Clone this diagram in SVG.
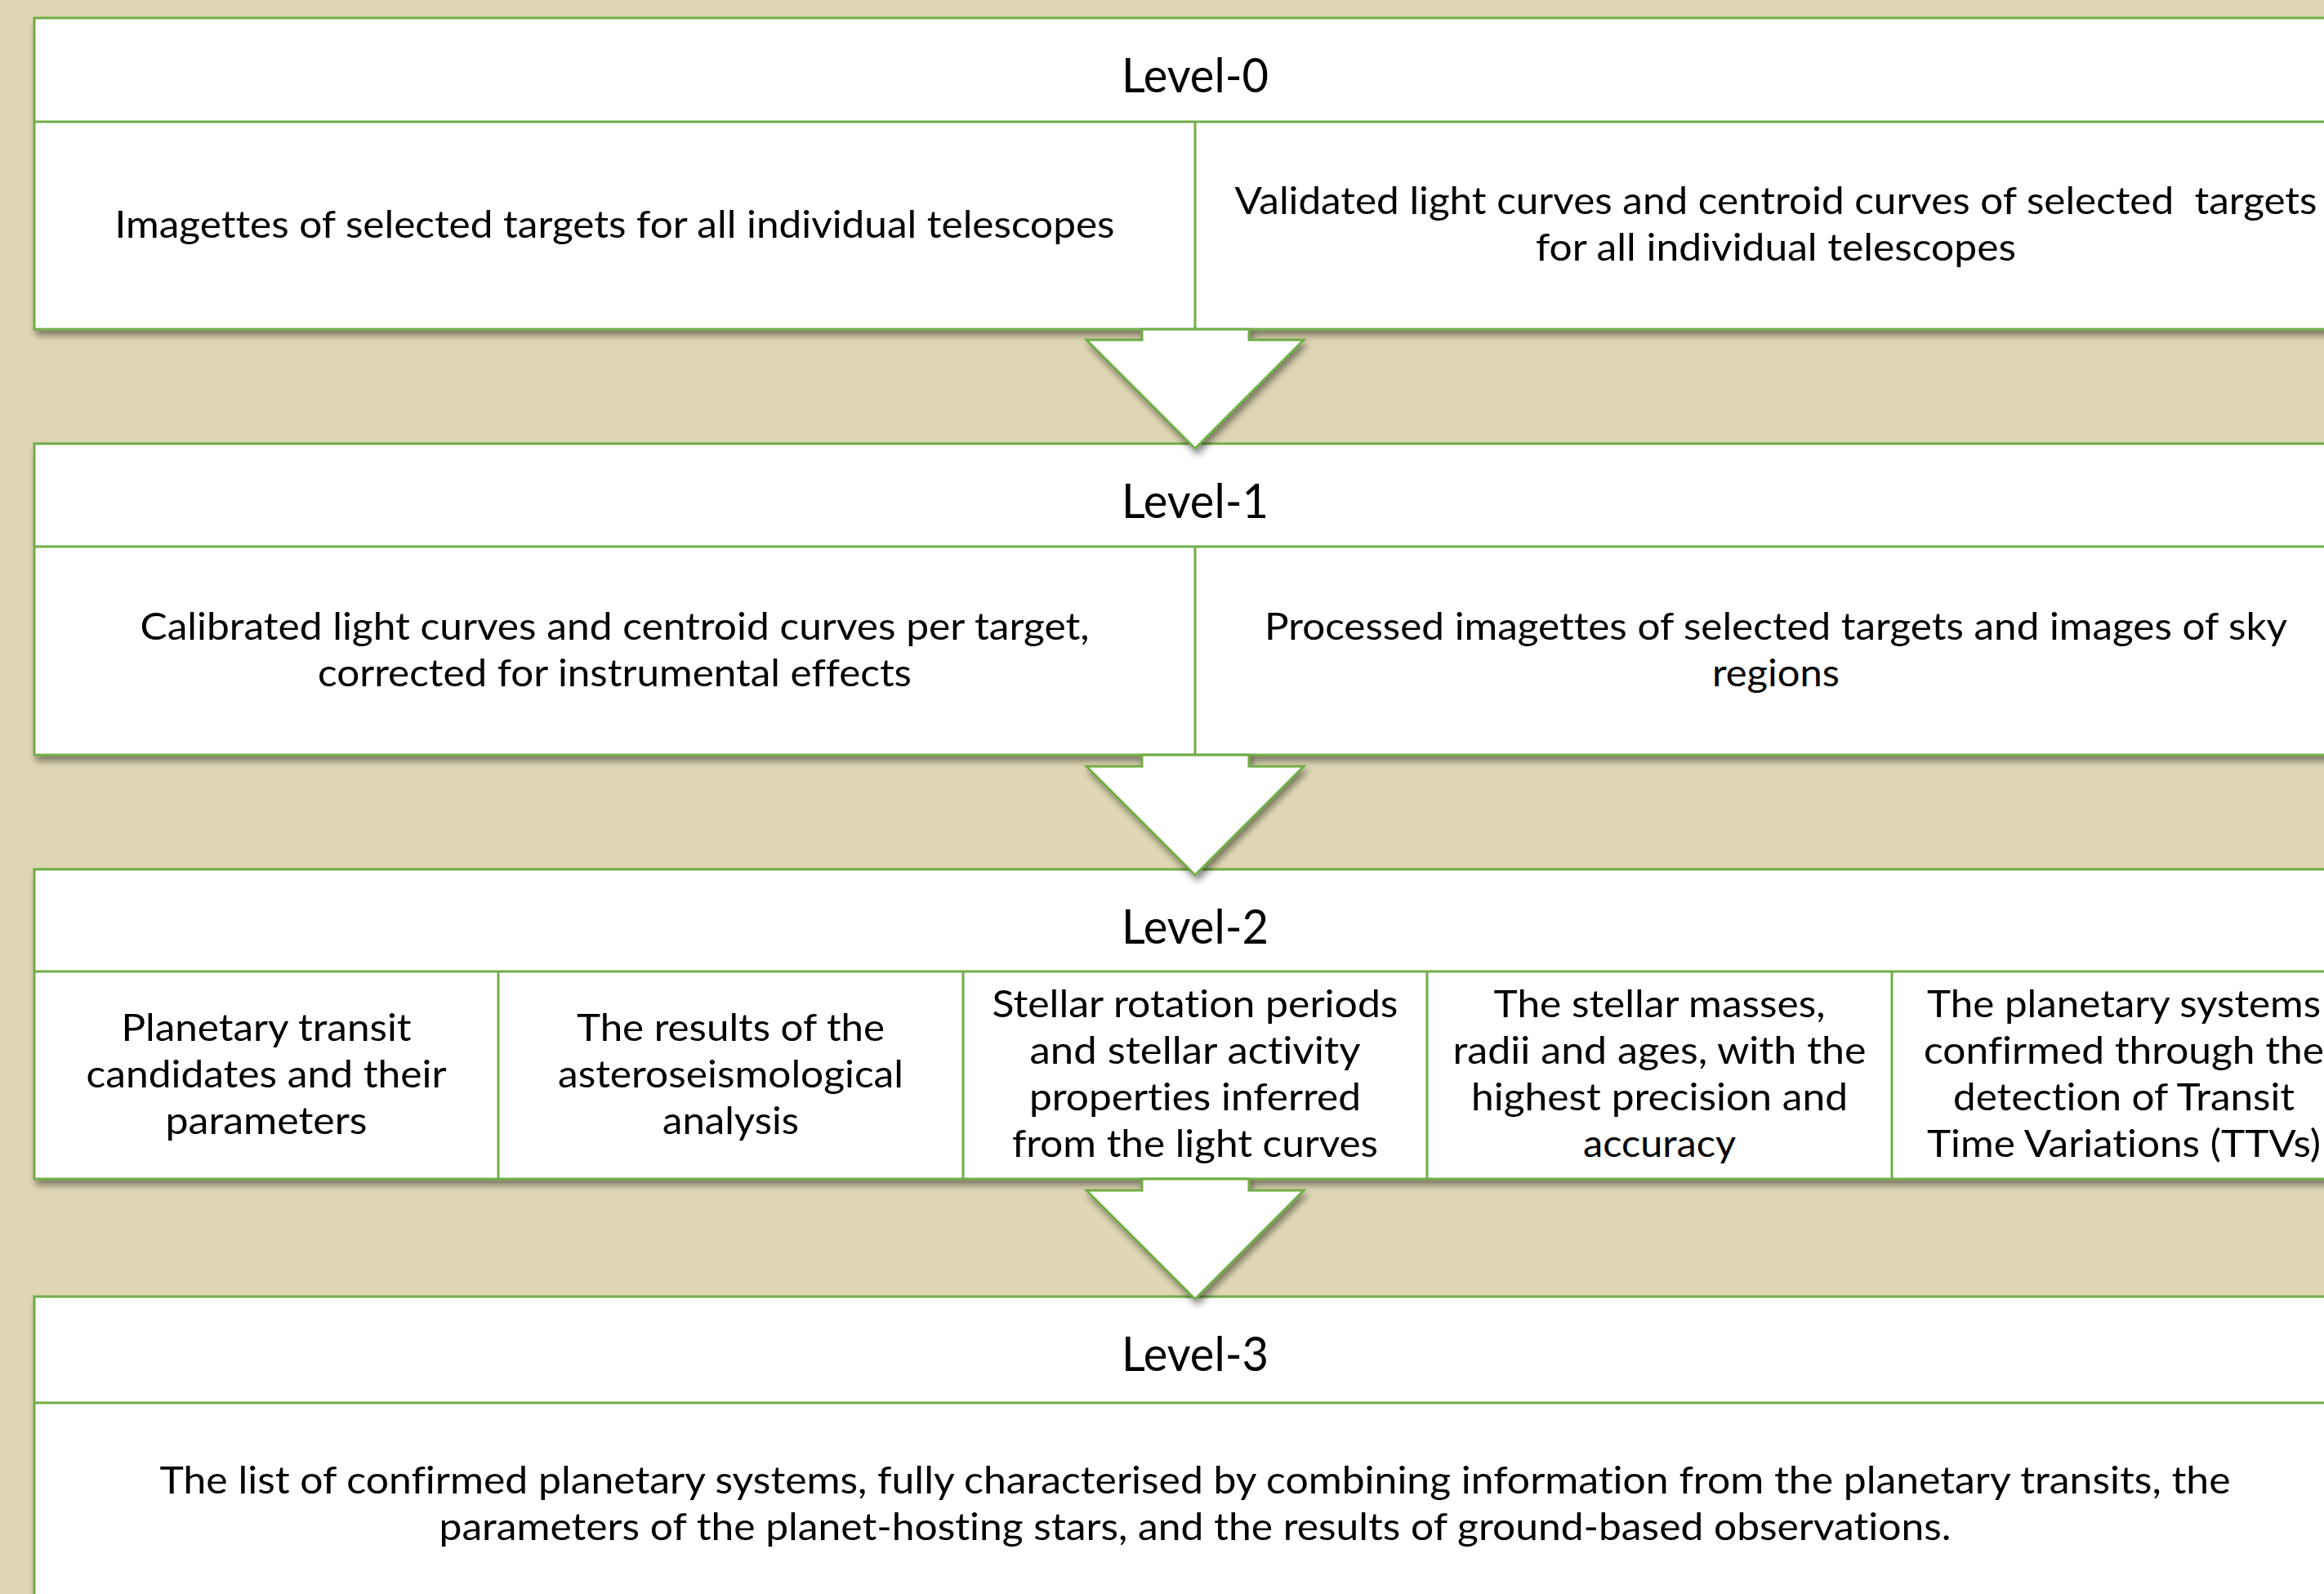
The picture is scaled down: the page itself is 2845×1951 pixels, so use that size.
<svg xmlns="http://www.w3.org/2000/svg" width="2845" height="1951" viewBox="0 0 2845 1951">
<style>
.bg{fill:#E0D8B4}
.box{fill:#FFFFFF;stroke:#70AD47;stroke-width:3}
.ln{stroke:#70AD47;stroke-width:3;fill:none}
.arrow{fill:#FFFFFF;stroke:#70AD47;stroke-width:3;stroke-linejoin:miter}
.h{font-family:Lato,"Liberation Sans",sans-serif;font-size:59px;fill:#000;text-anchor:middle;font-variant-ligatures:none}
.t{font-family:Lato,"Liberation Sans",sans-serif;font-size:47px;fill:#000;text-anchor:middle;font-variant-ligatures:none}
</style>
<defs>
<filter id="sh" x="-5%" y="-10%" width="110%" height="130%">
<feDropShadow dx="3" dy="6" stdDeviation="4" flood-color="#000000" flood-opacity="0.45"/>
</filter>
</defs>
<rect class="bg" x="0" y="0" width="2845" height="1951"/>

<g id="level0">
<rect class="box" x="42" y="22" width="2843" height="381" filter="url(#sh)"/>
<line class="ln" x1="42" y1="149" x2="2885" y2="149"/>
<line class="ln" x1="1463" y1="149" x2="1463" y2="403"/>
<text class="h" x="1463" y="113" textLength="180" lengthAdjust="spacingAndGlyphs">Level-0</text>
<text class="t" x="752.5" y="291" textLength="1224" lengthAdjust="spacingAndGlyphs">Imagettes of selected targets for all individual telescopes</text>
<text class="t" x="2174" y="262" textLength="1325" lengthAdjust="spacingAndGlyphs" xml:space="preserve">Validated light curves and centroid curves of selected  targets</text>
<text class="t" x="2174" y="319" textLength="588" lengthAdjust="spacingAndGlyphs">for all individual telescopes</text>
</g>

<g id="level1">
<rect class="box" x="42" y="543" width="2843" height="381" filter="url(#sh)"/>
<line class="ln" x1="42" y1="669" x2="2885" y2="669"/>
<line class="ln" x1="1463" y1="669" x2="1463" y2="924"/>
<text class="h" x="1463" y="634" textLength="180" lengthAdjust="spacingAndGlyphs">Level-1</text>
<text class="t" x="752.5" y="783" textLength="1162" lengthAdjust="spacingAndGlyphs">Calibrated light curves and centroid curves per target,</text>
<text class="t" x="752.5" y="840" textLength="727" lengthAdjust="spacingAndGlyphs">corrected for instrumental effects</text>
<text class="t" x="2174" y="783" textLength="1252" lengthAdjust="spacingAndGlyphs">Processed imagettes of selected targets and images of sky</text>
<text class="t" x="2174" y="840" textLength="156" lengthAdjust="spacingAndGlyphs">regions</text>
</g>

<g id="level2">
<rect class="box" x="42" y="1064" width="2843" height="379" filter="url(#sh)"/>
<line class="ln" x1="42" y1="1189" x2="2885" y2="1189"/>
<line class="ln" x1="610" y1="1189" x2="610" y2="1443"/>
<line class="ln" x1="1179" y1="1189" x2="1179" y2="1443"/>
<line class="ln" x1="1747" y1="1189" x2="1747" y2="1443"/>
<line class="ln" x1="2316" y1="1189" x2="2316" y2="1443"/>
<text class="h" x="1463" y="1155" textLength="180" lengthAdjust="spacingAndGlyphs">Level-2</text>
<g id="l2c1">
<text class="t" x="326" y="1274" textLength="355" lengthAdjust="spacingAndGlyphs">Planetary transit</text>
<text class="t" x="326" y="1331" textLength="441" lengthAdjust="spacingAndGlyphs">candidates and their</text>
<text class="t" x="326" y="1388" textLength="247" lengthAdjust="spacingAndGlyphs">parameters</text>
</g>
<g id="l2c2">
<text class="t" x="894.5" y="1274" textLength="377" lengthAdjust="spacingAndGlyphs">The results of the</text>
<text class="t" x="894.5" y="1331" textLength="423" lengthAdjust="spacingAndGlyphs">asteroseismological</text>
<text class="t" x="894.5" y="1388" textLength="167" lengthAdjust="spacingAndGlyphs">analysis</text>
</g>
<g id="l2c3">
<text class="t" x="1463" y="1245" textLength="497" lengthAdjust="spacingAndGlyphs">Stellar rotation periods</text>
<text class="t" x="1463" y="1302" textLength="405" lengthAdjust="spacingAndGlyphs">and stellar activity</text>
<text class="t" x="1463" y="1359" textLength="406" lengthAdjust="spacingAndGlyphs">properties inferred</text>
<text class="t" x="1463" y="1416" textLength="448" lengthAdjust="spacingAndGlyphs">from the light curves</text>
</g>
<g id="l2c4">
<text class="t" x="2031.5" y="1245" textLength="406" lengthAdjust="spacingAndGlyphs">The stellar masses,</text>
<text class="t" x="2031.5" y="1302" textLength="506" lengthAdjust="spacingAndGlyphs">radii and ages, with the</text>
<text class="t" x="2031.5" y="1359" textLength="461" lengthAdjust="spacingAndGlyphs">highest precision and</text>
<text class="t" x="2031.5" y="1416" textLength="187" lengthAdjust="spacingAndGlyphs">accuracy</text>
</g>
<g id="l2c5">
<text class="t" x="2600" y="1245" textLength="482" lengthAdjust="spacingAndGlyphs">The planetary systems</text>
<text class="t" x="2600" y="1302" textLength="490" lengthAdjust="spacingAndGlyphs">confirmed through the</text>
<text class="t" x="2600" y="1359" textLength="418" lengthAdjust="spacingAndGlyphs">detection of Transit</text>
<text class="t" x="2600" y="1416" textLength="482" lengthAdjust="spacingAndGlyphs">Time Variations (TTVs)</text>
</g>
</g>

<g id="level3">
<rect class="box" x="42" y="1587" width="2843" height="420" filter="url(#sh)"/>
<line class="ln" x1="42" y1="1717" x2="2885" y2="1717"/>
<text class="h" x="1463" y="1678" textLength="180" lengthAdjust="spacingAndGlyphs">Level-3</text>
<text class="t" x="1463" y="1828" textLength="2535" lengthAdjust="spacingAndGlyphs">The list of confirmed planetary systems, fully characterised by combining information from the planetary transits, the</text>
<text class="t" x="1463" y="1885" textLength="1851" lengthAdjust="spacingAndGlyphs">parameters of the planet-hosting stars, and the results of ground-based observations.</text>
</g>

<g id="connectors">
<polygon class="arrow" filter="url(#sh)" points="1398,403 1529,403 1529,416 1596,416 1463,549 1330,416 1398,416"/>
<polygon class="arrow" filter="url(#sh)" points="1398,924 1529,924 1529,938 1596,938 1463,1071 1330,938 1398,938"/>
<polygon class="arrow" filter="url(#sh)" points="1398,1443 1529,1443 1529,1457 1596,1457 1463,1590 1330,1457 1398,1457"/>
</g>
</svg>
